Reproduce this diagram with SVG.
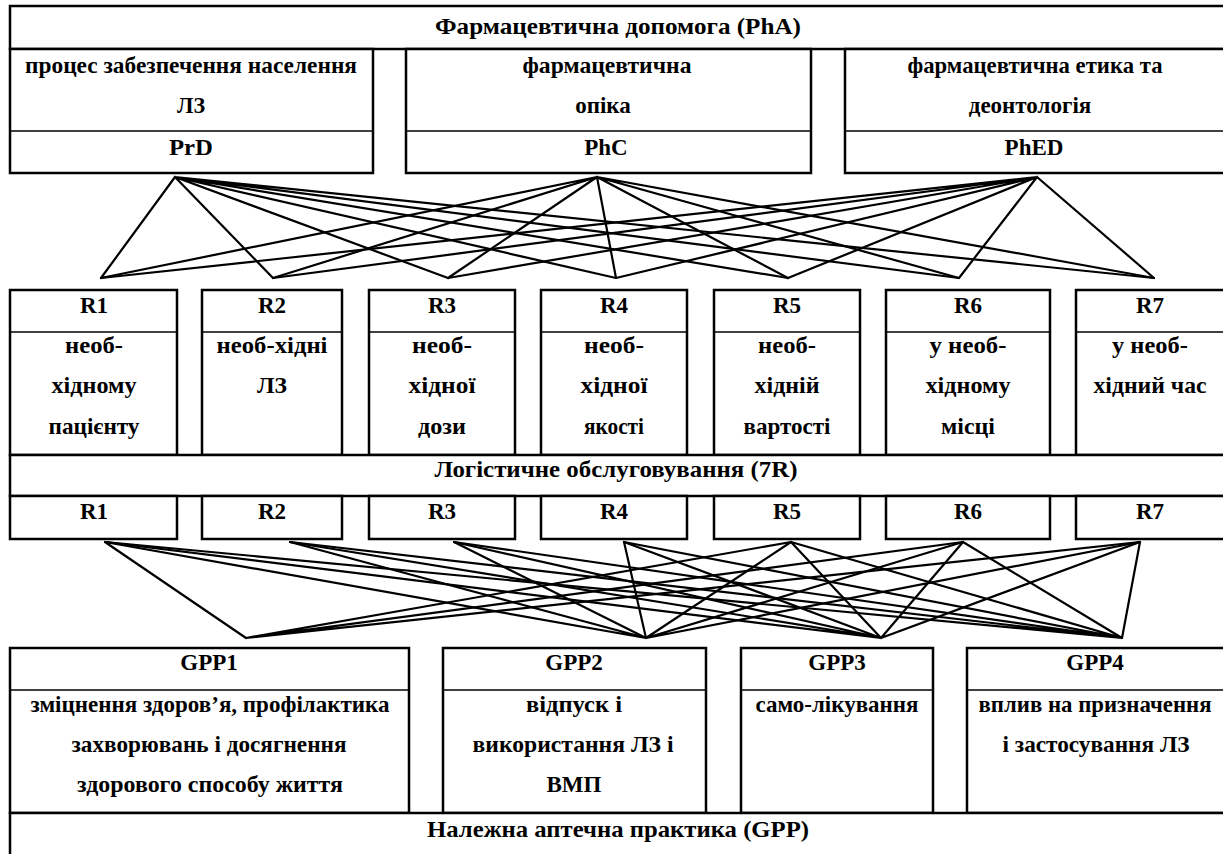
<svg xmlns="http://www.w3.org/2000/svg" width="1223" height="854" viewBox="0 0 1223 854">
<style>
.bg{fill:#fff}
.box{fill:#fff;stroke:#000;stroke-width:2.5}
.dv{stroke:#000;stroke-width:1.5;fill:none}
.c{stroke:#000;stroke-width:2.2;fill:none;stroke-linecap:round}
.t{font-family:"Liberation Serif","Times New Roman",serif;font-weight:bold;font-size:23px;text-anchor:middle;fill:#000}
</style>
<rect class="bg" x="0" y="0" width="1223" height="854"/>
<g id="connectors">
<path class="c" d="M175 177L101 278M175 177L273 278M175 177L448 278M175 177L616 278M175 177L788 278M175 177L959 278M175 177L1154 278"/>
<path class="c" d="M597 177L101 278M597 177L273 278M597 177L448 278M597 177L616 278M597 177L788 278M597 177L959 278M597 177L1154 278"/>
<path class="c" d="M1037 177L101 278M1037 177L273 278M1037 177L448 278M1037 177L616 278M1037 177L788 278M1037 177L959 278M1037 177L1154 278"/>
<path class="c" d="M105 542L246 638M791 542L246 638M963 542L246 638M1140 542L246 638"/>
<path class="c" d="M105 542L646 638M290 542L646 638M454 542L646 638M624 542L646 638M791 542L646 638M963 542L646 638M1140 542L646 638"/>
<path class="c" d="M105 542L881 638M290 542L881 638M454 542L881 638M624 542L881 638M791 542L881 638M963 542L881 638M1140 542L881 638"/>
<path class="c" d="M105 542L1122 638M290 542L1122 638M454 542L1122 638M624 542L1122 638M791 542L1122 638M963 542L1122 638M1140 542L1122 638"/>
</g>
<g id="PhA">
<rect class="box" x="10" y="6" width="1220" height="43"/>
<text class="t" x="618" y="34" textLength="366" lengthAdjust="spacingAndGlyphs">Фармацевтична допомога (PhA)</text>
</g>
<g id="PrD">
<rect class="box" x="10" y="49" width="363" height="124"/>
<line class="dv" x1="10" y1="131" x2="373" y2="131"/>
<text class="t" x="191" y="73" textLength="332" lengthAdjust="spacingAndGlyphs">процес забезпечення населення</text>
<text class="t" x="191" y="113" textLength="28" lengthAdjust="spacingAndGlyphs">ЛЗ</text>
<text class="t" x="191" y="155" textLength="44" lengthAdjust="spacingAndGlyphs">PrD</text>
</g>
<g id="PhC">
<rect class="box" x="406" y="49" width="405" height="124"/>
<line class="dv" x1="406" y1="131" x2="811" y2="131"/>
<text class="t" x="607" y="73" textLength="169" lengthAdjust="spacingAndGlyphs">фармацевтична</text>
<text class="t" x="603" y="113">опіка</text>
<text class="t" x="606" y="155">PhC</text>
</g>
<g id="PhED">
<rect class="box" x="845" y="49" width="385" height="124"/>
<line class="dv" x1="845" y1="131" x2="1230" y2="131"/>
<text class="t" x="1035" y="73" textLength="255" lengthAdjust="spacingAndGlyphs">фармацевтична етика та</text>
<text class="t" x="1030" y="113">деонтологія</text>
<text class="t" x="1034" y="155">PhED</text>
</g>
<g id="R1">
<rect class="box" x="10" y="290" width="167" height="165"/>
<line class="dv" x1="10" y1="332" x2="177" y2="332"/>
<text class="t" x="94" y="313">R1</text>
<text class="t" x="94" y="353" textLength="58" lengthAdjust="spacingAndGlyphs">необ-</text>
<text class="t" x="94" y="393" textLength="85" lengthAdjust="spacingAndGlyphs">хідному</text>
<text class="t" x="94" y="434" textLength="91" lengthAdjust="spacingAndGlyphs">пацієнту</text>
</g>
<g id="R2">
<rect class="box" x="202" y="290" width="140" height="165"/>
<line class="dv" x1="202" y1="332" x2="342" y2="332"/>
<text class="t" x="272" y="313">R2</text>
<text class="t" x="272" y="353" textLength="111" lengthAdjust="spacingAndGlyphs">необ-хідні</text>
<text class="t" x="272" y="393" textLength="30" lengthAdjust="spacingAndGlyphs">ЛЗ</text>
</g>
<g id="R3">
<rect class="box" x="369" y="290" width="146" height="165"/>
<line class="dv" x1="369" y1="332" x2="515" y2="332"/>
<text class="t" x="442" y="313">R3</text>
<text class="t" x="442" y="353" textLength="60" lengthAdjust="spacingAndGlyphs">необ-</text>
<text class="t" x="442" y="393" textLength="67" lengthAdjust="spacingAndGlyphs">хідної</text>
<text class="t" x="442" y="434" textLength="48" lengthAdjust="spacingAndGlyphs">дози</text>
</g>
<g id="R4">
<rect class="box" x="541" y="290" width="146" height="165"/>
<line class="dv" x1="541" y1="332" x2="687" y2="332"/>
<text class="t" x="614" y="313">R4</text>
<text class="t" x="614" y="353" textLength="60" lengthAdjust="spacingAndGlyphs">необ-</text>
<text class="t" x="614" y="393" textLength="67" lengthAdjust="spacingAndGlyphs">хідної</text>
<text class="t" x="614" y="434" textLength="60" lengthAdjust="spacingAndGlyphs">якості</text>
</g>
<g id="R5">
<rect class="box" x="714" y="290" width="146" height="165"/>
<line class="dv" x1="714" y1="332" x2="860" y2="332"/>
<text class="t" x="787" y="313">R5</text>
<text class="t" x="787" y="353" textLength="58" lengthAdjust="spacingAndGlyphs">необ-</text>
<text class="t" x="787" y="393" textLength="65" lengthAdjust="spacingAndGlyphs">хідній</text>
<text class="t" x="787" y="434" textLength="87" lengthAdjust="spacingAndGlyphs">вартості</text>
</g>
<g id="R6">
<rect class="box" x="886" y="290" width="164" height="165"/>
<line class="dv" x1="886" y1="332" x2="1050" y2="332"/>
<text class="t" x="968" y="313">R6</text>
<text class="t" x="968" y="353" textLength="77" lengthAdjust="spacingAndGlyphs">у необ-</text>
<text class="t" x="968" y="393" textLength="85" lengthAdjust="spacingAndGlyphs">хідному</text>
<text class="t" x="968" y="434" textLength="54" lengthAdjust="spacingAndGlyphs">місці</text>
</g>
<g id="R7">
<rect class="box" x="1076" y="290" width="154" height="165"/>
<line class="dv" x1="1076" y1="332" x2="1230" y2="332"/>
<text class="t" x="1150" y="313">R7</text>
<text class="t" x="1150" y="353" textLength="76" lengthAdjust="spacingAndGlyphs">у необ-</text>
<text class="t" x="1150" y="393" textLength="113" lengthAdjust="spacingAndGlyphs">хідний час</text>
</g>
<g id="logistics">
<rect class="box" x="10" y="455" width="1220" height="41"/>
<text class="t" x="616" y="477" textLength="363" lengthAdjust="spacingAndGlyphs">Логістичне обслуговування (7R)</text>
</g>
<g id="R1b"><rect class="box" x="10" y="496" width="167" height="43"/><text class="t" x="94" y="519">R1</text></g>
<g id="R2b"><rect class="box" x="202" y="496" width="140" height="43"/><text class="t" x="272" y="519">R2</text></g>
<g id="R3b"><rect class="box" x="369" y="496" width="146" height="43"/><text class="t" x="442" y="519">R3</text></g>
<g id="R4b"><rect class="box" x="541" y="496" width="146" height="43"/><text class="t" x="614" y="519">R4</text></g>
<g id="R5b"><rect class="box" x="714" y="496" width="146" height="43"/><text class="t" x="787" y="519">R5</text></g>
<g id="R6b"><rect class="box" x="886" y="496" width="164" height="43"/><text class="t" x="968" y="519">R6</text></g>
<g id="R7b"><rect class="box" x="1076" y="496" width="154" height="43"/><text class="t" x="1150" y="519">R7</text></g>
<g id="GPP1">
<rect class="box" x="10" y="648" width="399" height="165"/>
<line class="dv" x1="10" y1="690" x2="409" y2="690"/>
<text class="t" x="209" y="670">GPP1</text>
<text class="t" x="210" y="712" textLength="359" lengthAdjust="spacingAndGlyphs">зміцнення здоров’я, профілактика</text>
<text class="t" x="209" y="752" textLength="275" lengthAdjust="spacingAndGlyphs">захворювань і досягнення</text>
<text class="t" x="210" y="792" textLength="266" lengthAdjust="spacingAndGlyphs">здорового способу життя</text>
</g>
<g id="GPP2">
<rect class="box" x="443" y="648" width="263" height="165"/>
<line class="dv" x1="443" y1="690" x2="706" y2="690"/>
<text class="t" x="574" y="670">GPP2</text>
<text class="t" x="574" y="712" textLength="96" lengthAdjust="spacingAndGlyphs">відпуск і</text>
<text class="t" x="573" y="752" textLength="201" lengthAdjust="spacingAndGlyphs">використання ЛЗ і</text>
<text class="t" x="574" y="792">ВМП</text>
</g>
<g id="GPP3">
<rect class="box" x="741" y="648" width="192" height="165"/>
<line class="dv" x1="741" y1="690" x2="933" y2="690"/>
<text class="t" x="837" y="670">GPP3</text>
<text class="t" x="837" y="712" textLength="163" lengthAdjust="spacingAndGlyphs">само-лікування</text>
</g>
<g id="GPP4">
<rect class="box" x="967" y="648" width="263" height="165"/>
<line class="dv" x1="967" y1="690" x2="1230" y2="690"/>
<text class="t" x="1095" y="670">GPP4</text>
<text class="t" x="1095" y="712" textLength="233" lengthAdjust="spacingAndGlyphs">вплив на призначення</text>
<text class="t" x="1096" y="752" textLength="187" lengthAdjust="spacingAndGlyphs">і застосування ЛЗ</text>
</g>
<g id="GPP">
<rect class="box" x="10" y="813" width="1220" height="50"/>
<text class="t" x="618" y="837" textLength="382" lengthAdjust="spacingAndGlyphs">Належна аптечна практика (GPP)</text>
</g>
</svg>
